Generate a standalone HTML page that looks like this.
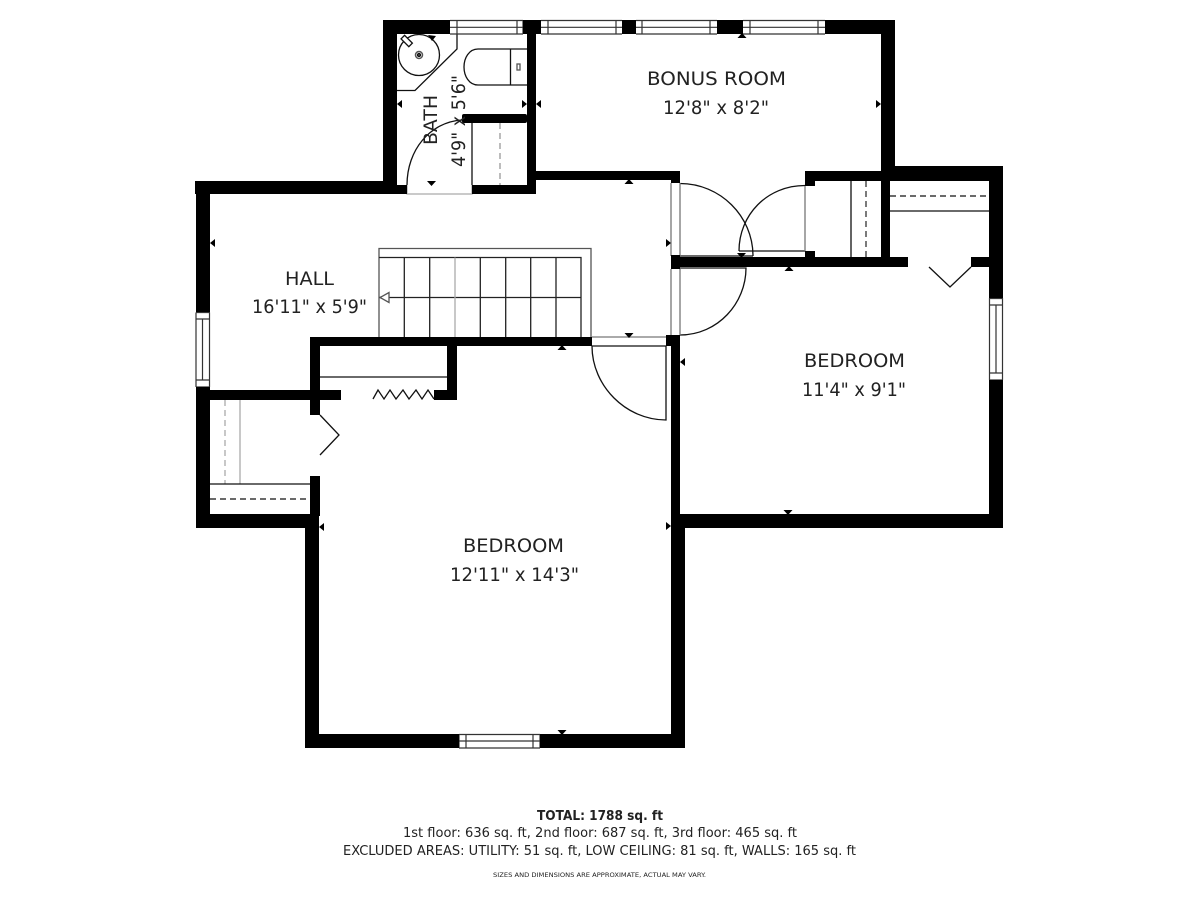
<!DOCTYPE html>
<html><head><meta charset="utf-8"><title>Floor plan</title>
<style>html,body{margin:0;padding:0;background:#fff}svg{display:block}
text{font-family:"DejaVu Sans","Liberation Sans",sans-serif;fill:#222}</style></head>
<body>
<svg width="1200" height="900" viewBox="0 0 1200 900" xmlns="http://www.w3.org/2000/svg">
<rect width="1200" height="900" fill="#fff"/>
<!-- stairs -->
<g fill="none" stroke="#222" stroke-width="1.300">
<path d="M379 337V248.500H591V337" stroke="#555"/>
<path d="M379 257.500H581V337M404.300 257.500V337M429.700 257.500V337M480.300 257.500V337M505.700 257.500V337M530.700 257.500V337M556 257.500V337M379 297.500H581"/>
<path d="M455 257.500V337" stroke="#aaa"/>
<path d="M380 297.500L389 292.500V302.500Z" fill="#fff" stroke="#555"/>
</g>
<!-- fixtures -->
<g fill="none" stroke="#111" stroke-width="1.300">
<circle cx="419" cy="55" r="20.500"/>
<circle cx="419" cy="55" r="3.500" stroke="#555" stroke-width="1.500"/><circle cx="419" cy="55" r="1.500" fill="#555"/>
<path d="M457 34V49L415 90.500H397"/>
<rect x="401" y="38" width="11" height="5" transform="rotate(45 406 41)" fill="#fff"/>
<path d="M527 49H478C469 49 464 58 464 67C464 76 469 85 478 85H527M510.500 49V85"/>
<rect x="517" y="64" width="3" height="6" stroke="#555"/>
<path d="M472 123V185"/>
<path d="M500 123V185" stroke="#999" stroke-dasharray="6 4"/>
<path d="M407 185C407 150 430 122 462 120"/>
<path d="M851 181V257"/>
<path d="M866 181V257" stroke-dasharray="6 4" stroke="#333"/>
<path d="M890 196H989" stroke-dasharray="6 4"/>
<path d="M890 211H989"/>
<path d="M929 267L950 287L971 267"/>
<path d="M320 377H447"/>
<path d="M373 399L378 390L384 399L390 390L396 399L403 390L409 399L416 390L422 399L428 390L434 399"/>
<path d="M240 400V484" stroke="#aaa"/>
<path d="M225 400V484" stroke="#aaa" stroke-dasharray="6 4"/>
<path d="M210 484H310"/>
<path d="M210 499H310" stroke-dasharray="6 4"/>
<path d="M320 415L339 435L320 455"/>
<!-- doors -->
<path d="M680 183.500C720 183.500 753 216 753 256M680 256H753"/>
<path d="M805 185.500C767 185.500 739 215 739 251M739 251H805"/>
<path d="M680 268H746C746 303 718 335 680 335"/>
<path d="M592 346H666V420C626 420 592 386 592 346"/>
<path d="M680 183V256M671 183V256M805 186V251M671 269V335M680 269V335" stroke="#777"/>
<path d="M592 337H666" stroke="#777"/>
<path d="M407 185V194H472V185" stroke="#aaa"/>
</g>
<!-- windows -->
<g fill="#fff" stroke="#333" stroke-width="1.200">
<path d="M450 20.500H523M450 27.300H523M450 34H523M457 20V34M517 20V34M523 20V34"/>
<path d="M541 20.500H622M541 27.300H622M541 34H622M548 20V34M616 20V34"/>
<path d="M636 20.500H717M636 27.300H717M636 34H717M642 20V34M710 20V34"/>
<path d="M743 20.500H825M743 27.300H825M743 34H825M750 20V34M818 20V34"/>
<path d="M459 734.500H540M459 741H540M459 748H540M459 734V748M466 734V748M533 734V748M540 734V748"/>
<path d="M196 312.500V387M202.500 319V380M209.500 312.500V387M196 312.500H210M196 319H210M196 380H210M196 387H210"/>
<path d="M989.500 298V380M996 305V373M1002.500 298V380M989 298.500H1003M989 305H1003M989 373H1003M989 380H1003"/>
</g>
<!-- walls -->
<g fill="#000">
<rect x="383" y="20" width="67" height="14"/><rect x="523" y="20" width="18" height="14"/><rect x="622" y="20" width="14" height="14"/><rect x="717" y="20" width="26" height="14"/><rect x="825" y="20" width="70" height="14"/>
<rect x="383" y="20" width="14" height="174"/>
<rect x="527" y="20" width="9" height="174"/>
<rect x="462" y="114" width="65" height="9" rx="2"/>
<rect x="380" y="185" width="27" height="9"/><rect x="472" y="185" width="64" height="9"/>
<rect x="536" y="171" width="144" height="9"/><rect x="671" y="171" width="9" height="12"/>
<rect x="195" y="181" width="202" height="13"/>
<rect x="196" y="181" width="14" height="131"/>
<rect x="196" y="387" width="14" height="141"/>
<rect x="196" y="514" width="123" height="14"/>
<rect x="210" y="390" width="131" height="10"/>
<rect x="310" y="337" width="10" height="78"/>
<rect x="310" y="476" width="10" height="40"/>
<rect x="305" y="514" width="14" height="234"/>
<rect x="305" y="734" width="154" height="14"/><rect x="540" y="734" width="145" height="14"/>
<rect x="671" y="528" width="14" height="220"/>
<rect x="310" y="337" width="282" height="9"/>
<rect x="447" y="337" width="10" height="63"/><rect x="434" y="390" width="23" height="10"/>
<rect x="666" y="335" width="14" height="11"/>
<rect x="671" y="335" width="9" height="193"/>
<rect x="671" y="255" width="9" height="14"/>
<rect x="671" y="257" width="237" height="10"/>
<rect x="971" y="257" width="20" height="10"/>
<rect x="805" y="171" width="76" height="10"/><rect x="805" y="171" width="10" height="15"/><rect x="805" y="251" width="10" height="8"/>
<rect x="881" y="20" width="14" height="155"/>
<rect x="881" y="166" width="122" height="15"/>
<rect x="881" y="166" width="9" height="101"/>
<rect x="989" y="166" width="14" height="132"/>
<rect x="989" y="380" width="14" height="148"/>
<rect x="671" y="514" width="332" height="14"/>
<!-- markers -->
<path d="M428 35L436 36L432 41Z"/>
<path d="M397 104L402 100V108ZM527 104L522 100V108ZM536 104L541 100V108ZM431.500 186L427 181H436ZM629 179L624.500 184H633.500Z"/>
<path d="M742 33L737.500 38H746.500ZM881 104L876 100V108ZM671 243L666 239V247ZM741.500 258L737 253H746ZM789 266L784.500 271H793.500Z"/>
<path d="M210 243L215 239V247ZM319 527L324 523V531ZM629 338L624.500 333H633.500ZM562 345L557.500 350H566.500ZM680 362L685 358V366Z"/>
<path d="M671 526L666 522V530ZM788 515L783.500 510H792.500ZM562 735L557.500 730H566.500Z"/>
</g>
<!-- labels -->
<g font-size="19">
<text x="647" y="85" textLength="139" lengthAdjust="spacingAndGlyphs">BONUS ROOM</text>
<text x="663" y="114" textLength="106" lengthAdjust="spacingAndGlyphs">12'8" x 8'2"</text>
<text x="285" y="285" textLength="49" lengthAdjust="spacingAndGlyphs">HALL</text>
<text x="252" y="313" textLength="115" lengthAdjust="spacingAndGlyphs">16'11" x 5'9"</text>
<text x="804" y="367" textLength="101" lengthAdjust="spacingAndGlyphs">BEDROOM</text>
<text x="802" y="396" textLength="104" lengthAdjust="spacingAndGlyphs">11'4" x 9'1"</text>
<text x="463" y="552" textLength="101" lengthAdjust="spacingAndGlyphs">BEDROOM</text>
<text x="450" y="581" textLength="129" lengthAdjust="spacingAndGlyphs">12'11" x 14'3"</text>
<text transform="translate(437 145) rotate(-90)" textLength="50" lengthAdjust="spacingAndGlyphs">BATH</text>
<text transform="translate(465 167) rotate(-90)" textLength="92" lengthAdjust="spacingAndGlyphs">4'9" x 5'6"</text>
</g>
<text x="537" y="820" font-size="13" font-weight="bold" textLength="126" lengthAdjust="spacingAndGlyphs">TOTAL: 1788 sq. ft</text>
<text x="403" y="837" font-size="13" textLength="394" lengthAdjust="spacingAndGlyphs">1st floor: 636 sq. ft, 2nd floor: 687 sq. ft, 3rd floor: 465 sq. ft</text>
<text x="343" y="855" font-size="13" textLength="513" lengthAdjust="spacingAndGlyphs">EXCLUDED AREAS: UTILITY: 51 sq. ft, LOW CEILING: 81 sq. ft, WALLS: 165 sq. ft</text>
<text x="493" y="877" font-size="6" textLength="213" lengthAdjust="spacingAndGlyphs">SIZES AND DIMENSIONS ARE APPROXIMATE, ACTUAL MAY VARY.</text>
</svg>
</body></html>
